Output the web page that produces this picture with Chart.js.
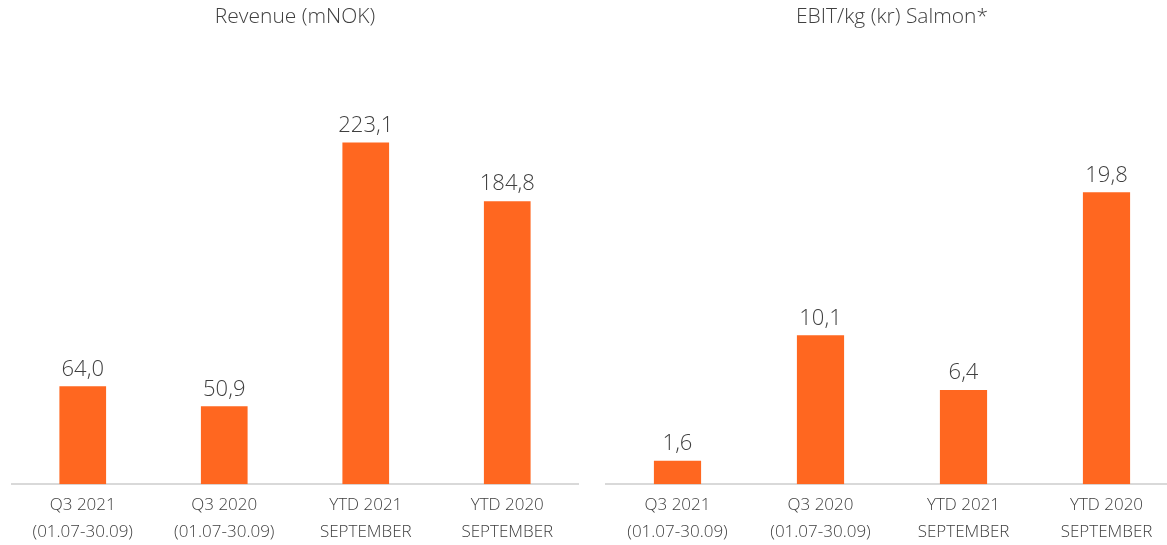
<!DOCTYPE html>
<html>
<head>
<meta charset="utf-8">
<script src="https://cdn.jsdelivr.net/npm/chart.js@4"></script>
<style>
  body { margin: 0; background: #fff; overflow: hidden; }
  .box { position: absolute; top: 0; height: 545px; }
  #leftBox { left: 0; width: 584px; }
  #rightBox { left: 598px; width: 580px; }
</style>
</head>
<body>
<div class="box" id="leftBox"><canvas id="revenueChart"></canvas></div>
<div class="box" id="rightBox"><canvas id="ebitChart"></canvas></div>
<script>
const categories = [
  ["Q3 2021", "(01.07-30.09)"],
  ["Q3 2020", "(01.07-30.09)"],
  ["YTD 2021", "SEPTEMBER"],
  ["YTD 2020", "SEPTEMBER"]
];
const revenueValues = [64.0, 50.9, 223.1, 184.8];
const ebitValues = [1.6, 10.1, 6.4, 19.8];

const textColor = "#404040";
const barColor = "#ff6720";
const fontName = "Open Sans";

// draws the value above each bar, comma as decimal sign
const valueLabels = {
  id: "valueLabels",
  afterDatasetsDraw(chart) {
    const ctx = chart.ctx;
    const meta = chart.getDatasetMeta(0);
    ctx.save();
    ctx.fillStyle = textColor;
    ctx.font = "300 22px " + fontName;
    ctx.textAlign = "center";
    ctx.textBaseline = "bottom";
    meta.data.forEach((bar, i) => {
      const v = chart.data.datasets[0].data[i];
      ctx.fillText(v.toFixed(1).replace(".", ","), bar.x, bar.y - 6);
    });
    ctx.restore();
  }
};

function makeChart(id, title, values, yMax, padLeft, padRight) {
  return new Chart(document.getElementById(id), {
    type: "bar",
    data: {
      labels: categories,
      datasets: [{
        data: values,
        backgroundColor: barColor,
        barPercentage: 0.33,
        categoryPercentage: 1
      }]
    },
    options: {
      responsive: true,
      maintainAspectRatio: false,
      animation: false,
      layout: { padding: { left: padLeft, right: padRight, top: 0, bottom: 0 } },
      plugins: {
        legend: { display: false },
        tooltip: { enabled: false },
        title: {
          display: true,
          text: title,
          color: textColor,
          font: { family: fontName, size: 21, weight: "300" },
          padding: { top: 4, bottom: 20 }
        }
      },
      scales: {
        x: {
          grid: { display: false },
          border: { color: "#d9d9d9", width: 2 },
          ticks: {
            color: textColor,
            font: { family: fontName, size: 17, weight: "300", lineHeight: 1.55 },
            padding: 0,
            maxRotation: 0
          }
        },
        y: {
          display: false,
          min: 0,
          max: yMax
        }
      }
    },
    plugins: [valueLabels]
  });
}

makeChart("revenueChart", "Revenue (mNOK)", revenueValues, 284, 12, 6);
makeChart("ebitChart", "EBIT/kg (kr) Salmon*", ebitValues, 29.5, 8, 0);
</script>
</body>
</html>
